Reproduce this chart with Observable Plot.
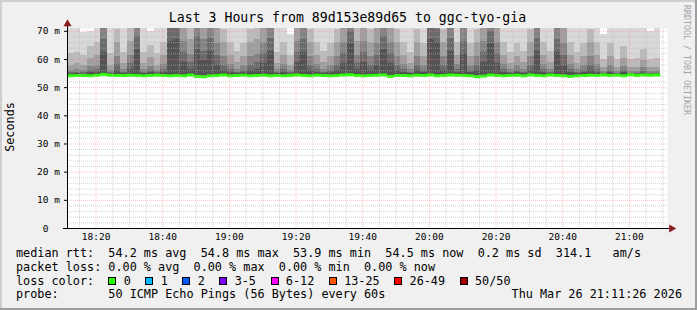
<!DOCTYPE html>
<html><head><meta charset="utf-8">
<script src="https://cdn.jsdelivr.net/npm/d3@7"></script>
<script src="https://cdn.jsdelivr.net/npm/@observablehq/plot@0.6"></script>
<style>
html,body{margin:0;padding:0;background:#f0f0f0}
#chart{position:relative;width:697px;height:310px;background:#f0f0f0;overflow:hidden;font-family:"DejaVu Sans Mono",monospace;color:#000}
#chart svg{position:absolute;left:0;top:0}
.bd{position:absolute}
.txt{position:absolute;white-space:pre;font-size:11.8px;line-height:13.8px}
.box{display:inline-block;width:6px;height:6px;border:1px solid #000;margin-right:7.3px;vertical-align:baseline}
.item{margin-left:14.6px}
.item:first-child{margin-left:0}
</style></head>
<body><div id="chart"></div>
<script>
// ---- data ----
const titleText = "Last 3 Hours from 89d153e89d65 to ggc-tyo-gia";
const yAxisTitle = "Seconds";
const watermark = "RRDTOOL / TOBI OETIKER";
const dayStr = "2026-03-26";
const startTime = "18:11:26";
const endTime = "21:11:26";
const stepMinutes = 2;
const xTickLabels = ["18:20","18:40","19:00","19:20","19:40","20:00","20:20","20:40","21:00"];
const yTicks = [0, 10, 20, 30, 40, 50, 60, 70];
const yTickLabels = ["0\u00a0\u00a0", "10 m", "20 m", "30 m", "40 m", "50 m", "60 m", "70 m"];
// median rtt per 2-minute column (ms)
const median = [54.2,54.3,54.3,54.2,54.4,54.7,54.4,54.3,54.3,54.4,
  54.3,54.2,54.3,54.4,54.3,54.2,54.3,54.2,54.5,54.0,
  53.9,54.2,54.3,54.5,54.2,54.3,54.4,54.2,54.3,54.4,
  54.2,54.3,54.2,54.3,54.5,54.3,54.2,54.4,54.3,54.2,
  54.3,54.5,54.6,54.3,54.2,54.3,54.4,54.5,54.0,54.3,
  54.3,54.2,54.4,54.3,54.5,54.2,54.3,54.5,54.4,54.3,
  54.2,53.9,54.1,54.5,54.3,54.2,54.3,54.4,54.2,54.5,
  54.3,54.2,54.5,54.3,54.2,54.0,54.2,54.3,54.4,54.3,
  54.5,54.3,54.4,54.2,54.6,54.3,54.5,54.4,54.5];
// smoke: upper ping percentiles per column (ms)
const p60 = [54.8,54.9,54.8,55.3,55.4,62.5,54.8,56.2,54.9,56.5,
  63.5,54.9,55.3,54.8,55.5,66.5,67.0,59.0,56.5,63.5,
  59.5,63.0,58.0,56.0,55.5,54.9,55.3,56.0,56.5,58.5,
  63.0,54.9,55.5,54.8,59.0,62.5,56.0,55.5,54.9,55.3,
  56.0,58.5,65.5,56.5,59.0,56.0,58.0,63.5,58.5,56.0,
  55.5,54.9,56.0,55.3,67.0,66.0,56.0,63.0,55.5,62.0,
  55.3,56.0,59.0,65.5,58.5,55.5,54.9,55.3,54.9,56.0,
  63.0,55.5,54.9,62.5,58.0,55.5,54.9,55.3,56.0,55.5,
  54.8,55.3,54.8,55.3,54.8,54.8,55.2,54.8,54.8];
const p70 = [55.4,55.5,55.3,56.0,56.3,67.0,55.4,58.2,55.5,58.6,
  68.0,55.5,56.0,55.4,56.5,71.0,71.5,62.5,58.8,68.0,
  63.0,67.5,61.5,58.0,56.5,55.5,56.2,58.0,58.8,62.0,
  67.5,55.5,56.5,55.3,62.5,67.0,58.0,56.5,55.5,56.2,
  58.0,62.0,70.0,58.6,62.5,58.0,61.5,68.0,62.0,58.0,
  56.5,55.5,58.0,56.2,71.5,70.5,58.0,67.5,56.5,66.5,
  56.2,58.0,62.5,70.0,62.0,56.5,55.5,56.2,55.5,58.0,
  67.5,56.5,55.5,67.0,61.5,56.5,55.5,56.2,58.0,56.5,
  55.2,56.2,55.2,56.0,55.2,55.2,55.8,55.2,55.2];
const p80 = [56.2,56.4,56.0,57.5,58.0,71.5,56.2,61.0,56.4,61.5,
  72.5,56.4,57.6,56.2,58.2,75,76,66.5,61.8,72.5,
  67.0,72.0,65.5,61.0,58.2,56.5,57.8,61.0,61.8,66.0,
  72.0,56.4,58.2,56.0,66.5,71.5,61.0,58.2,56.5,57.8,
  61.0,66.0,74,61.5,66.5,61.0,65.5,72.5,66.0,61.0,
  58.2,56.4,61.0,57.8,76,75,61.0,72.0,58.2,71.0,
  57.8,61.0,66.5,74,66.0,58.2,56.4,57.8,56.5,61.0,
  72.0,58.2,56.5,71.5,65.5,58.2,56.4,57.8,61.0,58.2,
  55.8,57.8,55.7,57.5,55.7,55.8,57.0,55.7,55.8];
const p90 = [58.0,58.5,57.8,60.5,61.5,77,58.0,66.0,58.5,66.5,
  78,58.5,60.8,58.0,61.5,82,83,72,67,78,
  72.5,78,71,66,61.5,58.8,61.0,66.0,67.0,71.5,
  78,58.5,61.5,57.8,72,77,66.0,61.5,58.8,61.0,
  66.0,71.5,81,66.5,72,66.0,71,78,71.5,66.0,
  61.5,58.5,66.0,61.0,83,82,66.0,78,61.5,77,
  61.0,66.0,72,81,71.5,61.5,58.5,61.0,58.8,66.0,
  78,61.5,58.8,77,71,61.5,58.5,61.0,66.0,61.5,
  57.2,61.0,57.0,60.5,57.0,57.2,59.5,57.0,57.2];
const p95 = [62.0,62.5,61.5,64.5,66.0,83,62.0,70.5,62.5,71.0,
  84,62.5,65.0,62.0,66.0,88,89,77,71.5,84,
  77,84,76,70.5,66.0,63.0,65.5,70.5,71.5,76,
  84,62.5,66.0,61.5,77,83,70.5,66.0,63.0,65.5,
  70.5,76,87,71.0,77,70.5,76,84,76,70.5,
  66.0,62.5,70.5,65.5,89,88,70.5,84,66.0,83,
  65.5,70.5,77,87,76,66.0,62.5,65.5,63.0,70.5,
  84,66.0,63.0,83,76,66.0,62.5,65.5,70.5,66.0,
  60.0,65.5,60.0,64.5,60.0,60.5,63.5,60.0,60.5];
const pMax = [75,74,69.5,70,78,92,74,82,73,83,
  95,75,69.8,74,79,98,98,88,84,95,
  90,94,88,83,78,75,77,82,83,87,
  94,74,78,69.0,88,93,82,78,75,77,
  81,87,96,83,88,82,86,95,87,81,
  78,74,81,77,98,96,82,94,78,92,
  77,82,88,96,87,78,74,77,75,82,
  94,78,75,93,86,78,74,77,81,78,
  69.0,77,73,76,73,74,76,70,73];
const rttNames = ["avg","max","min","now"];
const rttValues = [54.2, 54.8, 53.9, 54.5];
const rttSd = 0.2;
const rttAmS = 314.1;
const lossValues = [0.00, 0.00, 0.00, 0.00];
const lossLabels = ["0","1","2","3-5","6-12","13-25","26-49","50/50"];
const lossColors = ["#26ff00","#00b8ff","#0059ff","#7e00ff","#ff00ff","#ff5500","#ff0000","#a00000"];
const probeText = "50 ICMP Echo Pings (56 Bytes) every 60s";
const stampText = "Thu Mar 26 21:11:26 2026";

// ---- build ----
const parseT = d3.timeParse("%Y-%m-%d %H:%M:%S");
const tStart = parseT(`${dayStr} ${startTime}`);
const tEnd = parseT(`${dayStr} ${endTime}`);
const xMajor = xTickLabels.map(s => parseT(`${dayStr} ${s}:00`));
const xMinor = d3.timeMinute.every(5).range(tStart, tEnd).filter(d => d.getMinutes() % 20 !== 0);
const yMinor = d3.range(2, 71, 2).filter(v => v % 10 !== 0);
const cols = median.map((m, i) => ({
  t0: d3.timeMinute.offset(tStart, i * stepMinutes),
  t1: d3.timeMinute.offset(tStart, (i + 1) * stepMinutes),
  med: m, p60: p60[i], p70: p70[i], p80: p80[i], p90: p90[i], p95: p95[i], max: pMax[i], loss: 0
}));
const font = "DejaVu Sans Mono";
const minorGrid = {stroke: "#b8b8b8", strokeOpacity: 0.6, strokeDasharray: "1,1"};
const majorGrid = {stroke: "#ff8080", strokeOpacity: 0.5, strokeDasharray: "1,1"};
const rectBase = {x1: "t0", x2: "t1", clip: true, shapeRendering: "crispEdges"};
const bandKeys = ["med", "p60", "p70", "p80", "p90", "p95", "max"];
const bandShades = ["#535353", "#6a6a6a", "#838383", "#9e9e9e", "#bababa", "#d8d8d8"];
const smokeMarks = bandShades.map((c, k) =>
  Plot.rect(cols, {...rectBase, y1: bandKeys[k], y2: bandKeys[k + 1], fill: c}));

const plot = Plot.plot({
  width: 697, height: 310,
  marginLeft: 67, marginRight: 30, marginTop: 28, marginBottom: 82,
  style: {background: "transparent", overflow: "visible", color: "#000"},
  x: {type: "time", domain: [tStart, tEnd]},
  y: {domain: [0, 71]},
  marks: [
    Plot.frame({fill: "white", stroke: "none"}),
    ...smokeMarks,
    Plot.ruleY(cols, {y: "med", x1: "t0", x2: "t1", stroke: d => lossColors[d.loss], strokeWidth: 3}),
    Plot.ruleY(yMinor, minorGrid),
    Plot.ruleX(xMinor, minorGrid),
    Plot.ruleY(yTicks.slice(1), majorGrid),
    Plot.ruleX(xMajor, majorGrid),
    Plot.ruleX([tStart], {stroke: "#000", insetTop: -3}),
    Plot.ruleY([0], {stroke: "#000", insetLeft: -4, insetRight: -2}),
    Plot.dot([0], {frameAnchor: "top-left", dy: -4.5, symbol: "triangle", r: 3, fill: "#8a1c1c", stroke: "none"}),
    Plot.dot([0], {frameAnchor: "bottom-right", dx: 4, symbol: "triangle", r: 3, rotate: 90, fill: "#8a1c1c", stroke: "none"}),
    Plot.axisX(xMajor, {tickFormat: d3.timeFormat("%H:%M"), tickSize: 0, tickPadding: 4.3, fontSize: 9.5, fontFamily: font, label: null}),
    Plot.axisY(yTicks, {tickFormat: (d, i) => yTickLabels[i], tickSize: 3, tickPadding: 4.5, fontSize: 9.5, fontFamily: font, label: null})
  ]
});

const chart = document.getElementById("chart");
chart.appendChild(plot);

function add(html, css, cls) {
  const d = document.createElement("div");
  d.className = cls || "txt";
  d.style.cssText = css;
  d.innerHTML = html;
  chart.appendChild(d);
  return d;
}
// borders
add("", "left:0;top:0;width:697px;height:2px;background:#cfcfcf", "bd");
add("", "left:0;top:0;width:2px;height:310px;background:#cfcfcf", "bd");
add("", "right:0;top:0;width:2px;height:310px;background:#9e9e9e", "bd");
add("", "left:0;bottom:0;width:697px;height:2px;background:#9e9e9e", "bd");
// title
add(titleText, "left:0;width:695px;top:10.4px;text-align:center;font-size:13.2px;line-height:16px");
// y title
add(yAxisTitle, "left:10.5px;top:127px;transform:translate(-50%,-50%) rotate(-90deg)");
// watermark
add(watermark, "left:686.5px;top:60px;transform:translate(-50%,-50%) rotate(90deg);font-size:8.3px;line-height:10px;color:#a4a4a4");
// legend lines
const line1 = "median rtt:  " + rttValues.map((v, i) => `${v.toFixed(1)} ms ${rttNames[i]}`).join("  ")
  + `  ${rttSd.toFixed(1)} ms sd  ${rttAmS.toFixed(1)}   am/s`;
const line2 = "packet loss: " + lossValues.map((v, i) => `${v.toFixed(2)} % ${rttNames[i]}`).join("  ");
const line3 = "loss color:  " + lossLabels.map((l, i) =>
  `<span class="item"><span class="box" style="background:${lossColors[i]}"></span>${l}</span>`).join("");
const line4 = "probe:       " + probeText;
add(line1, "left:16px;top:247px");
add(line2, "left:16px;top:260.8px");
add(line3, "left:16px;top:274.6px");
add(line4, "left:16px;top:288.4px");
add(stampText, "right:15px;top:288.4px");
</script>
</body></html>
